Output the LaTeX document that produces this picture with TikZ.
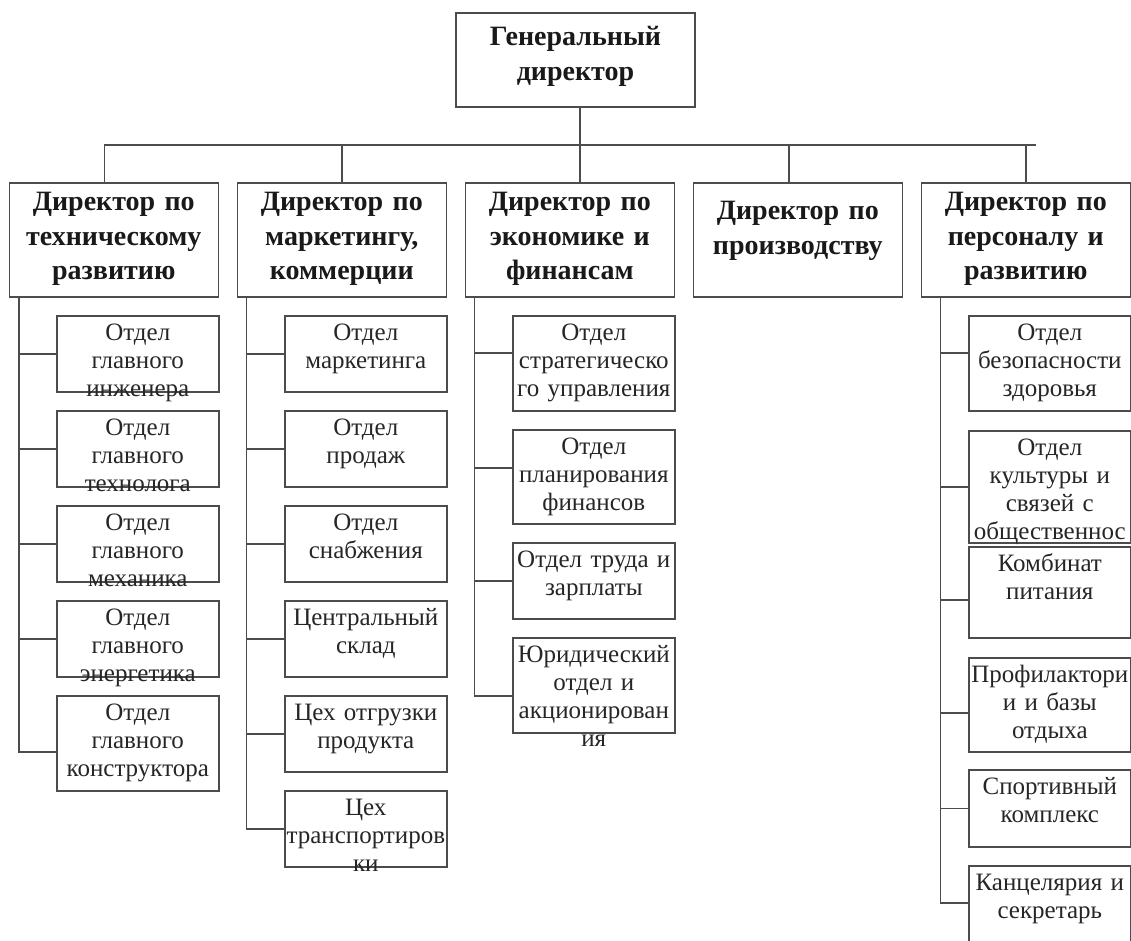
\documentclass[tikz,border=0pt]{standalone}
\usepackage{fontspec}
\setmainfont{Liberation Serif}
\usetikzlibrary{positioning}

\begin{document}
\begin{tikzpicture}[x=1pt, y=1pt, node distance=95pt,
		link/.style={draw=black!70, line width=1.5pt},
		chiefbox/.style={draw=black!70, line width=1.5pt, fill=white, inner sep=0pt,
			text width=239pt, align=center, text height=33pt, text depth=61pt,
			text=black!90, font=\bfseries\fontsize{28}{34.5}\selectfont},
		dirbox/.style={chiefbox, text width=209pt, text height=28pt, text depth=86pt},
		deptbox/.style={draw=black!70, line width=1.5pt, fill=white, inner sep=0pt,
			text width=162pt, align=center, text height=24pt, text depth=52pt,
			text=black!85, font=\fontsize{25}{28}\selectfont}
		]
		\useasboundingbox (0,0) rectangle (1131,-941);
		% top level
		\node[chiefbox](G) at (575.5,-60){Генеральный\\директор};
		\node[dirbox, below of = G, yshift = -85pt, xshift = -5.7pt](D3){Директор по\\экономике и\\финансам};
		\node[dirbox, left of = D3, xshift = -133pt](D2){Директор по\\маркетингу,\\коммерции};
		\node[dirbox, left of = D2, xshift = -133pt](D1){Директор по\\техническому\\развитию};
		\node[dirbox, right of = D3, xshift = 133pt, text height=37pt, text depth=77pt](D4){Директор по\\производству};
		\node[dirbox, right of = D4, xshift = 133pt](D5){Директор по\\персоналу и\\развитию};
		\coordinate (busend) at ([xshift=10pt, yshift=37pt]D5.north);
		\draw[link] ([xshift=4.5pt]G.south) -- ([xshift=10.2pt]D3.north);
		\draw[link] ([xshift=-9.3pt]D1.north) |- (busend);
		\draw[link] (D2.north) -- (D2.north |- busend);
		\draw[link] ([xshift=-8.8pt]D4.north) -- ([xshift=-8.8pt]D4.north |- busend);
		\draw[link] (D5.north) -- (D5.north |- busend);
		% technical development
		\node[deptbox, below of = D1, yshift = -19pt, xshift = 24pt](T1){Отдел\\главного\\инженера};
		\node[deptbox, below of = T1](T2){Отдел\\главного\\технолога};
		\node[deptbox, below of = T2](T3){Отдел\\главного\\механика};
		\node[deptbox, below of = T3](T4){Отдел\\главного\\энергетика};
		\node[deptbox, below of = T4, yshift = -9.5pt, text depth=71pt](T5){Отдел\\главного\\конструктора};
		\coordinate (c1) at ([xshift=10.2pt]D1.south west);
		\draw[link] (c1) |- (T1.west);
		\draw[link] (c1) |- (T2.west);
		\draw[link] (c1) |- (T3.west);
		\draw[link] (c1) |- (T4.west);
		\draw[link] (c1) |- ([yshift=-8.5pt]T5.west);
		% marketing
		\node[deptbox, below of = D2, yshift = -19pt, xshift = 24pt](M1){Отдел\\маркетинга};
		\node[deptbox, below of = M1](M2){Отдел\\продаж};
		\node[deptbox, below of = M2](M3){Отдел\\снабжения};
		\node[deptbox, below of = M3](M4){Центральный\\склад};
		\node[deptbox, below of = M4](M5){Цех отгрузки\\продукта};
		\node[deptbox, below of = M5](M6){Цех\\транспортиров\\ки};
		\coordinate (c2) at ([xshift=9.7pt]D2.south west);
		\draw[link] (c2) |- (M1.west);
		\draw[link] (c2) |- (M2.west);
		\draw[link] (c2) |- (M3.west);
		\draw[link] (c2) |- (M4.west);
		\draw[link] (c2) |- (M5.west);
		\draw[link] (c2) |- (M6.west);
		% economics
		\node[deptbox, below of = D3, yshift = -28.5pt, xshift = 24pt, text depth=71pt](E1){Отдел\\стратегическо\\го управления};
		\node[deptbox, below of = E1, yshift = -18.5pt, text depth=70pt](E2){Отдел\\планирования\\финансов};
		\node[deptbox, below of = E2, yshift = -9pt](E3){Отдел труда и\\зарплаты};
		\node[deptbox, below of = E3, yshift = -9.5pt, text depth=71pt](E4){Юридический\\отдел и\\акционирован\\ия};
		\coordinate (c3) at ([xshift=9.7pt]D3.south west);
		\draw[link] (c3) |- ([yshift=10.5pt]E1.west);
		\draw[link] (c3) |- ([yshift=9pt]E2.west);
		\draw[link] (c3) |- (E3.west);
		\draw[link] (c3) |- ([yshift=-10.5pt]E4.west);
		% personnel
		\node[deptbox, below of = D5, yshift = -28.5pt, xshift = 24pt, text depth=71pt](P1){Отдел\\безопасности\\здоровья};
		\node[deptbox, below of = P1, yshift = -28.5pt, text depth=88pt](P2){Отдел\\культуры и\\связей с\\общественнос\\тью};
		\node[deptbox, below of = P2, yshift = -10.5pt, text depth=67pt](P3){Комбинат\\питания};
		\node[deptbox, below of = P3, yshift = -17.5pt, text depth=70pt](P4){Профилактори\\и и базы\\отдыха};
		\node[deptbox, below of = P4, yshift = -8.5pt, text depth=53pt](P5){Спортивный\\комплекс};
		\node[deptbox, below of = P5, yshift = -2.5pt, text depth=56pt](P6){Канцелярия и\\секретарь};
		\coordinate (c5) at ([xshift=19.7pt]D5.south west);
		\draw[link] (c5) |- ([yshift=10.5pt]P1.west);
		\draw[link] (c5) |- (P2.west);
		\draw[link] (c5) |- ([yshift=-7.5pt]P3.west);
		\draw[link] (c5) |- ([yshift=-8pt]P4.west);
		\draw[link] (c5) |- (P5.west);
		\draw[link] (c5) |- ([yshift=3pt]P6.west);
	\end{tikzpicture}
\end{document}
